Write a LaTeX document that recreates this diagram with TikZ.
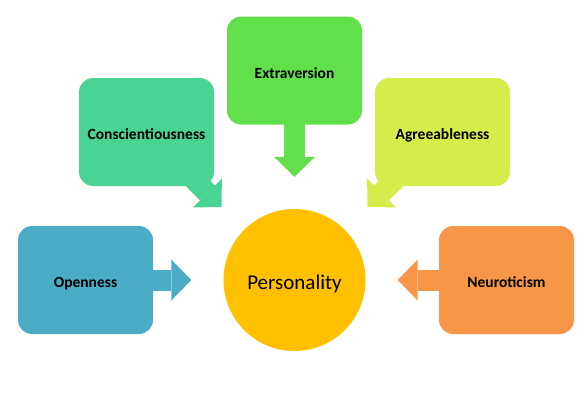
\documentclass[tikz,border=0pt]{standalone}
\usepackage{fontspec}
\setmainfont{Carlito}
\usetikzlibrary{arrows.meta}
\definecolor{openC}{HTML}{4BACC6}
\definecolor{conscC}{HTML}{4AD493}
\definecolor{extraC}{HTML}{62E04B}
\definecolor{agreeC}{HTML}{D5EC4A}
\definecolor{neuroC}{HTML}{F79646}
\definecolor{persC}{HTML}{FFC000}
\begin{document}
\begin{tikzpicture}[
    x=1pt, y=-1pt,
    trait/.style={rectangle, fill=#1, rounded corners=14pt, minimum width=135pt, minimum height=108pt, inner sep=0pt, text height=15pt, text depth=0pt, font=\bfseries\fontsize{15.5}{18}\selectfont},
    core/.style={circle, fill=persC, minimum size=142pt, inner sep=0pt, text height=19.5pt, text depth=0pt, font=\fontsize{21}{25}\selectfont},
    push/.style={draw=#1, line width=21pt, -{Triangle[width=41pt, length=20pt, line width'=0pt]}, shorten <=-12pt, shorten >=32pt}
    ]
    \useasboundingbox (0,0) rectangle (585,400);
    \node [core] (pers) at (294.5,280) {Personality};
    \node [trait=openC] (open) at (85.5,280) {Openness};
    \node [trait=conscC] (consc) at (146.5,132) {Conscientiousness};
    \node [trait=extraC] (extra) at (294.5,70.5) {Extraversion};
    \node [trait=agreeC] (agree) at (442.5,132) {Agreeableness};
    \node [trait=neuroC] (neuro) at (506.5,280) {Neuroticism};

    \draw [push=openC] (open) -- (pers);
    \draw [push=conscC] (consc) -- (pers);
    \draw [push=extraC] (extra) -- (pers);
    \draw [push=agreeC] (agree) -- (pers);
    \draw [push=neuroC] (neuro) -- (pers);
\end{tikzpicture}
\end{document}
